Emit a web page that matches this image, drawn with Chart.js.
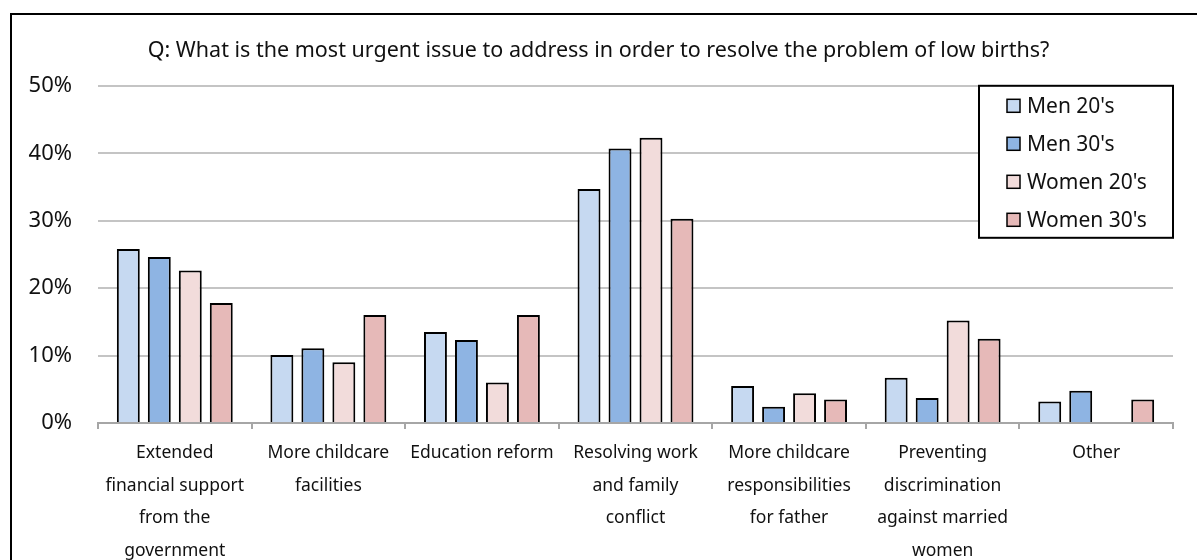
<!DOCTYPE html>
<html>
<head>
<meta charset="utf-8">
<title>Low births survey</title>
<script src="https://cdn.jsdelivr.net/npm/chart.js@4"></script>
<style>
    html, body { margin: 0; padding: 0; background: #fff; overflow: hidden; }
    #chart { display: block; }
</style>
</head>
<body>
<canvas id="chart" width="1197" height="560"></canvas>
<script>
// Survey answers, share of respondents (%)
const categories = [
    ['Extended', 'financial support', 'from the', 'government'],
    ['More childcare', 'facilities'],
    ['Education reform'],
    ['Resolving work', 'and family', 'conflict'],
    ['More childcare', 'responsibilities', 'for father'],
    ['Preventing', 'discrimination', 'against married', 'women'],
    ['Other']
];
const seriesNames = ["Men 20's", "Men 30's", "Women 20's", "Women 30's"];
const men20 = [25.8, 10.1, 13.5, 34.7, 5.5, 6.7, 3.2];
const men30 = [24.6, 11.1, 12.3, 40.7, 2.4, 3.7, 4.8];
const women20 = [22.6, 9.0, 6.0, 42.3, 4.4, 15.2, 0];
const women30 = [17.8, 16.0, 16.0, 30.3, 3.5, 12.5, 3.5];
const seriesColors = ['#c6d9f1', '#8eb4e3', '#f2dcdb', '#e6b9b8'];
const yTicks = [0, 10, 20, 30, 40, 50];

const titleText = 'Q: What is the most urgent issue to address in order to resolve the problem of low births?';
const fontFamily = "'Noto Sans', 'Open Sans', sans-serif";
const textColor = '#111';

// Outer frame around the whole figure (only top and left edges are visible)
const framePlugin = {
    id: 'frame',
    beforeDraw(chart) {
        const ctx = chart.ctx;
        ctx.save();
        ctx.strokeStyle = '#000';
        ctx.lineWidth = 2;
        ctx.strokeRect(11, 14, chart.width + 50, chart.height + 50);
        ctx.restore();
    }
};

// Boxed legend sitting in the top-right corner of the plot area
const boxLegendPlugin = {
    id: 'boxLegend',
    afterDatasetsDraw(chart) {
        const ctx = chart.ctx;
        const area = chart.chartArea;
        const w = 194, h = 152;
        const left = area.right - w;
        const top = area.top;
        ctx.save();
        ctx.fillStyle = '#fff';
        ctx.fillRect(left, top, w, h);
        ctx.strokeStyle = '#000';
        ctx.lineWidth = 2;
        ctx.strokeRect(left, top, w, h);
        ctx.font = '21px ' + fontFamily;
        ctx.textBaseline = 'middle';
        ctx.textAlign = 'left';
        chart.data.datasets.forEach((ds, i) => {
            const cy = top + 20 + i * 38;
            ctx.fillStyle = ds.backgroundColor;
            ctx.fillRect(left + 28, cy - 6.5, 13, 13);
            ctx.lineWidth = 1.5;
            ctx.strokeStyle = '#000';
            ctx.strokeRect(left + 28, cy - 6.5, 13, 13);
            ctx.fillStyle = textColor;
            ctx.fillText(ds.label, left + 48, cy + 1);
        });
        ctx.restore();
    }
};

const seriesValues = [men20, men30, women20, women30];

const ctx = document.getElementById('chart').getContext('2d');
const chart = new Chart(ctx, {
    type: 'bar',
    data: {
        labels: categories,
        datasets: seriesNames.map((name, idx) => ({
            label: name,
            data: seriesValues[idx],
            backgroundColor: seriesColors[idx],
            borderColor: '#000',
            borderWidth: 2,
            categoryPercentage: 0.807,
            barPercentage: 0.74
        }))
    },
    options: {
        responsive: false,
        animation: false,
        devicePixelRatio: 1,
        layout: {
            // equal side padding keeps the title centred on the canvas
            padding: { left: 24, right: 24, top: 0, bottom: 0 }
        },
        plugins: {
            legend: { display: false },
            tooltip: { enabled: false },
            title: {
                display: true,
                text: titleText,
                color: textColor,
                font: { family: fontFamily, size: 21.5, weight: 'normal' },
                padding: { top: 38, bottom: 22 }
            }
        },
        scales: {
            x: {
                grid: {
                    drawOnChartArea: false,
                    drawTicks: true,
                    tickLength: 6,
                    color: '#a6a6a6',
                    lineWidth: 2
                },
                border: { display: true, color: '#a6a6a6', width: 2 },
                ticks: {
                    color: textColor,
                    padding: 8,
                    maxRotation: 0,
                    autoSkip: false,
                    font: { family: fontFamily, size: 17.5, lineHeight: 1.86 }
                },
                afterFit(scale) {
                    scale.height = 137;
                }
            },
            y: {
                min: 0,
                max: 50,
                afterBuildTicks(scale) {
                    scale.ticks = yTicks.map(v => ({ value: v }));
                },
                grid: {
                    drawTicks: false,
                    color: '#c4c4c4',
                    lineWidth: 2
                },
                border: { display: false },
                ticks: {
                    color: textColor,
                    padding: 26,
                    font: { family: fontFamily, size: 22 },
                    callback: v => v + '%'
                },
                afterFit(scale) {
                    scale.width = 74;
                }
            }
        }
    },
    plugins: [framePlugin, boxLegendPlugin]
});
</script>
</body>
</html>
